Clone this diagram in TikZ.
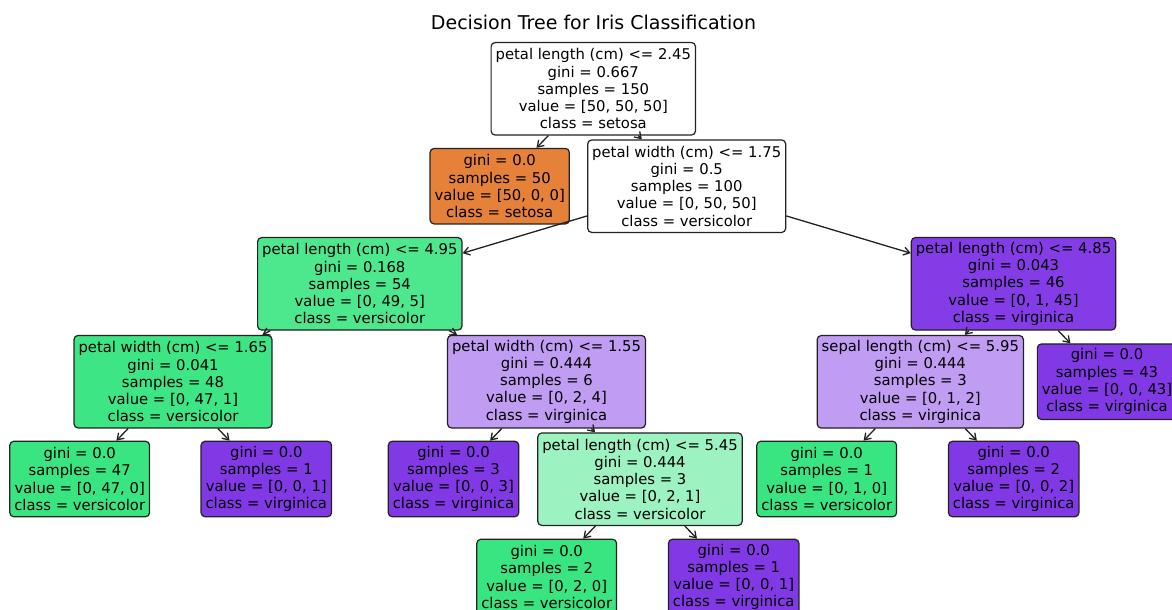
\documentclass[tikz,border=0pt]{standalone}
\usepackage{fontspec}
\setmainfont{DejaVu Sans}
\usetikzlibrary{arrows.meta}
% class colours, blended towards white by node purity
\definecolor{setosa}{RGB}{229,129,57}
\definecolor{versi}{RGB}{57,229,129}
\definecolor{versiA}{RGB}{77,231,142}
\definecolor{versiB}{RGB}{61,229,132}
\definecolor{versiC}{RGB}{156,242,192}
\definecolor{virg}{RGB}{129,57,229}
\definecolor{virgA}{RGB}{132,61,230}
\definecolor{virgC}{RGB}{192,156,242}
\definecolor{edgecol}{RGB}{34,34,34}
\begin{document}
\begin{tikzpicture}[x=1pt,y=-1pt,
  box/.style={rectangle, rounded corners=4pt, draw=edgecol, line width=1.2pt,
    align=center, inner xsep=4.5pt, inner ysep=0pt,
    font=\fontsize{14.8}{17.2}\selectfont},
  split/.style={box, minimum height=92.5pt},
  leaf/.style={box, minimum height=75.5pt},
  edge/.style={draw=edgecol, line width=1.3pt, -{Straight Barb[length=6pt,width=8pt]}},
  titlefont/.style={font=\fontsize{19}{23}\selectfont}
]
\useasboundingbox (0,0) rectangle (1172,610);
\fill[white] (0,0) rectangle (1172,610);
\clip (0,0) rectangle (1172,610);

\node[titlefont] (title) at (593.5,22) {Decision Tree for Iris Classification};

\node[split, fill=white] (root) at (593.3,88.8)
  {petal length (cm) <= 2.45\\gini = 0.667\\samples = 150\\value = [50, 50, 50]\\class = setosa};
\node[leaf, fill=setosa] (n1) at (499.7,186.2)
  {gini = 0.0\\samples = 50\\value = [50, 0, 0]\\class = setosa};
\node[split, fill=white] (n2) at (686.7,186.2)
  {petal width (cm) <= 1.75\\gini = 0.5\\samples = 100\\value = [0, 50, 50]\\class = versicolor};
\node[split, fill=versiA] (n3) at (359.8,283.8)
  {petal length (cm) <= 4.95\\gini = 0.168\\samples = 54\\value = [0, 49, 5]\\class = versicolor};
\node[split, fill=versiB] (n4) at (173,381.7)
  {petal width (cm) <= 1.65\\gini = 0.041\\samples = 48\\value = [0, 47, 1]\\class = versicolor};
\node[leaf, fill=versi] (n5) at (79.7,479)
  {gini = 0.0\\samples = 47\\value = [0, 47, 0]\\class = versicolor};
\node[leaf, fill=virg] (n6) at (266.3,479)
  {gini = 0.0\\samples = 1\\value = [0, 0, 1]\\class = virginica};
\node[split, fill=virgC] (n7) at (546.5,381.7)
  {petal width (cm) <= 1.55\\gini = 0.444\\samples = 6\\value = [0, 2, 4]\\class = virginica};
\node[leaf, fill=virg] (n8) at (453.5,479)
  {gini = 0.0\\samples = 3\\value = [0, 0, 3]\\class = virginica};
\node[split, fill=versiC] (n9) at (640,479.2)
  {petal length (cm) <= 5.45\\gini = 0.444\\samples = 3\\value = [0, 2, 1]\\class = versicolor};
\node[leaf, fill=versi] (n10) at (546.7,577)
  {gini = 0.0\\samples = 2\\value = [0, 2, 0]\\class = versicolor};
\node[leaf, fill=virg] (n11) at (733.7,577)
  {gini = 0.0\\samples = 1\\value = [0, 0, 1]\\class = virginica};
\node[split, fill=virgA] (n12) at (1013.5,283.8)
  {petal length (cm) <= 4.85\\gini = 0.043\\samples = 46\\value = [0, 1, 45]\\class = virginica};
\node[split, fill=virgC] (n13) at (920.3,381.8)
  {sepal length (cm) <= 5.95\\gini = 0.444\\samples = 3\\value = [0, 1, 2]\\class = virginica};
\node[leaf, fill=versi] (n14) at (826.7,479)
  {gini = 0.0\\samples = 1\\value = [0, 1, 0]\\class = versicolor};
\node[leaf, fill=virg] (n15) at (1013.7,479)
  {gini = 0.0\\samples = 2\\value = [0, 0, 2]\\class = virginica};
\node[leaf, fill=virg] (n16) at (1107,381.7)
  {gini = 0.0\\samples = 43\\value = [0, 0, 43]\\class = virginica};

\draw[edge] (root) -- (n1);
\draw[edge] (root) -- (n2);
\draw[edge] (n2) -- (n3);
\draw[edge] (n2) -- (n12);
\draw[edge] (n3) -- (n4);
\draw[edge] (n3) -- (n7);
\draw[edge] (n4) -- (n5);
\draw[edge] (n4) -- (n6);
\draw[edge] (n7) -- (n8);
\draw[edge] (n7) -- (n9);
\draw[edge] (n9) -- (n10);
\draw[edge] (n9) -- (n11);
\draw[edge] (n12) -- (n13);
\draw[edge] (n12) -- (n16);
\draw[edge] (n13) -- (n14);
\draw[edge] (n13) -- (n15);
\end{tikzpicture}
\end{document}
